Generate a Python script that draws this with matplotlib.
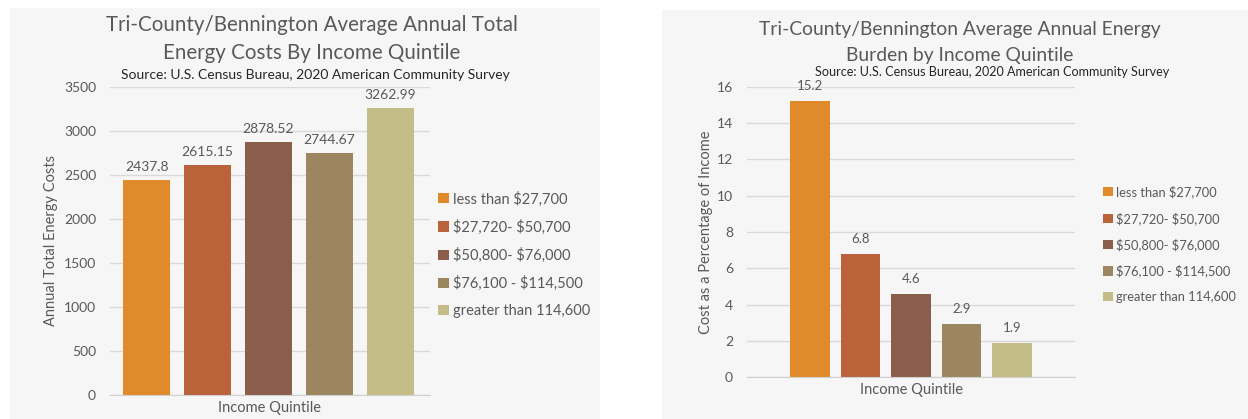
import matplotlib

matplotlib.use("Agg")
import matplotlib.pyplot as plt
from matplotlib.patches import Rectangle, Patch

quintiles = ["less than $27,700", "$27,720- $50,700", "$50,800- $76,000",
             "$76,100 - $114,500", "greater than 114,600"]
total_costs = [2437.8, 2615.15, 2878.52, 2744.67, 3262.99]
cost_labels = ["2437.8", "2615.15", "2878.52", "2744.67", "3262.99"]
burden_pct = [15.2, 6.8, 4.6, 2.9, 1.9]
burden_labels = ["15.2", "6.8", "4.6", "2.9", "1.9"]
colors = ["#E08A2B", "#BA623A", "#8A5E4A", "#9C8660", "#C4BD87"]

plt.rcParams["font.family"] = ["Lato", "DejaVu Sans"]
TXT = "#595959"
W, H = 1248, 419

fig = plt.figure(figsize=(W / 100, H / 100), dpi=100)
fig.patch.set_facecolor("white")


def fx(px):
    return px / W


def fy(py):
    return 1 - py / H


# panel backgrounds
fig.patches.append(Rectangle((fx(10), 0), fx(590), fy(8), transform=fig.transFigure,
                             facecolor="#f6f6f6", edgecolor="none", zorder=-5))
fig.patches.append(Rectangle((fx(662), 0), fx(586), fy(10), transform=fig.transFigure,
                             facecolor="#f6f6f6", edgecolor="none", zorder=-5))

legend_labels = [q.replace("$", r"\$") for q in quintiles]
handles = [Patch(facecolor=c, edgecolor="none") for c in colors]


def style(ax, pad):
    ax.set_facecolor("none")
    for s in ["top", "right", "left"]:
        ax.spines[s].set_visible(False)
    ax.spines["bottom"].set_color("#d0d0d0")
    ax.grid(axis="y", color="#d9d9d9", linewidth=1.0)
    ax.set_axisbelow(True)
    ax.tick_params(axis="y", length=0, colors=TXT, labelsize=10, pad=pad)
    ax.set_xticks([])
    ax.set_xlabel("Income Quintile", color=TXT, fontsize=10.5, labelpad=4)


# left chart
ax1 = fig.add_axes([fx(110), fy(395), fx(430 - 110), fy(87) - fy(395)])
x = range(len(total_costs))
ax1.bar(x, total_costs, width=0.77, color=colors)
for xi, v, lab in zip(x, total_costs, cost_labels):
    ax1.text(xi, v + 80, lab, ha="center", va="bottom", color=TXT, fontsize=10)
ax1.set_xlim(-0.6, 4.65)
ax1.set_ylim(0, 3500)
ax1.set_yticks(range(0, 3501, 500))
style(ax1, 10)
ax1.set_ylabel("Annual Total Energy Costs", color=TXT, fontsize=10.5)
ax1.yaxis.set_label_coords(-0.1625, 0.5)
fig.text(fx(312), fy(25), "Tri-County/Bennington Average Annual Total", ha="center", va="center",
         color=TXT, fontsize=14.8)
fig.text(fx(312), fy(53), "Energy Costs By Income Quintile", ha="center", va="center",
         color=TXT, fontsize=14.8)
fig.text(fx(315), fy(75), "Source: U.S. Census Bureau, 2020 American Community Survey", ha="center",
         va="center", color="#262626", fontsize=10)
fig.legend(handles, legend_labels, loc="upper left", bbox_to_anchor=(fx(431), fy(184)), frameon=False,
           fontsize=10.5, labelcolor=TXT, handlelength=0.7, handleheight=0.7, handletextpad=0.3,
           labelspacing=0.9, borderpad=0)

# right chart
ax2 = fig.add_axes([fx(747), fy(377), fx(1075 - 747), fy(87) - fy(377)])
ax2.bar(x, burden_pct, width=0.79, color=colors)
for xi, v, lab in zip(x, burden_pct, burden_labels):
    ax2.text(xi, v + 0.5, lab, ha="center", va="bottom", color=TXT, fontsize=9.5)
ax2.set_xlim(-1.25, 5.25)
ax2.set_ylim(0, 16)
ax2.set_yticks(range(0, 17, 2))
style(ax2, 10)
ax2.set_ylabel("Cost as a Percentage of Income", color=TXT, fontsize=10.5)
ax2.yaxis.set_label_coords(-0.104, 0.5)
fig.text(fx(960), fy(29), "Tri-County/Bennington Average Annual Energy", ha="center", va="center",
         color=TXT, fontsize=13.9)
fig.text(fx(960), fy(55), "Burden by Income Quintile", ha="center", va="center",
         color=TXT, fontsize=13.9)
fig.text(fx(992), fy(72), "Source: U.S. Census Bureau, 2020 American Community Survey", ha="center",
         va="center", color="#262626", fontsize=9.1)
fig.legend(handles, legend_labels, loc="upper left", bbox_to_anchor=(fx(1097), fy(179)), frameon=False,
           fontsize=9.3, labelcolor=TXT, handlelength=0.7, handleheight=0.7, handletextpad=0.3,
           labelspacing=1.05, borderpad=0)

fig.savefig("out.png", dpi=100)
